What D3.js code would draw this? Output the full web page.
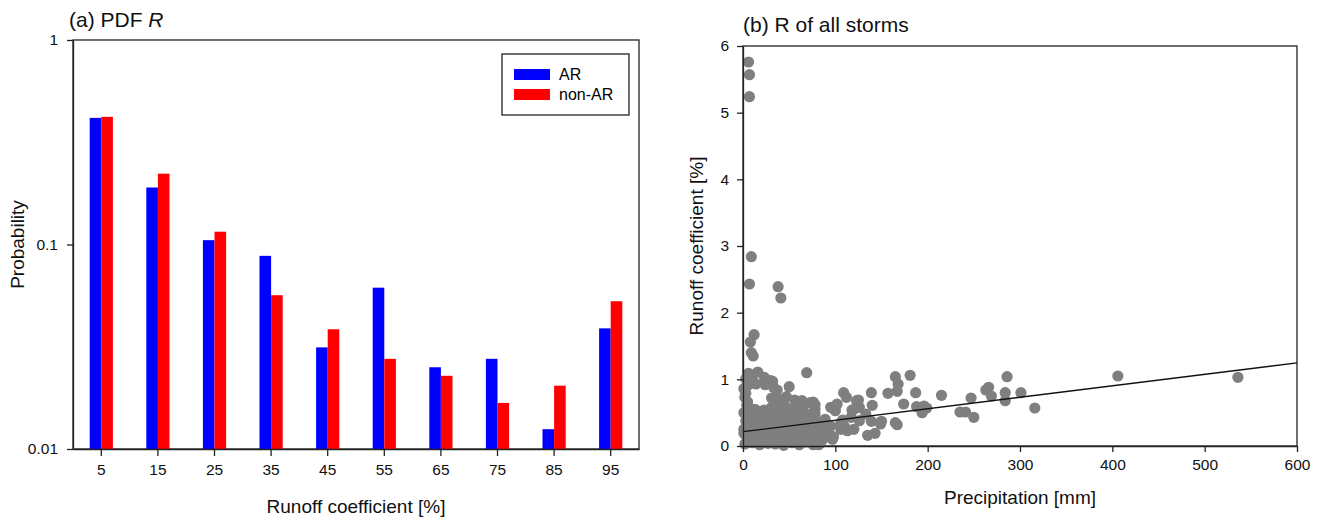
<!DOCTYPE html>
<html lang="en">
<head>
  <meta charset="UTF-8">
  <title>Runoff coefficient</title>
  <style>
    body {
      margin: 0;
      background: #ffffff;
      font-family: Arial, "Liberation Sans", sans-serif;
    }
    svg { display: block; }
    .axis path, .axis line { stroke: #222; stroke-width: 1.3px; }
    .axis text { font-size: 15.5px; fill: #111; }
    .frame { fill: none; stroke: #222; stroke-width: 1.3px; }
    .title { font-size: 21px; fill: #111; }
    .label { font-size: 19px; fill: #111; }
  </style>
</head>
<body>
  <svg id="chart" width="1320" height="518"></svg>

  <script src="https://d3js.org/d3.v7.min.js"></script>
  <script>
    // (a) PDF of runoff coefficient
    const binCenters = [5, 15, 25, 35, 45, 55, 65, 75, 85, 95];
    const pdfAR    = [0.416, 0.190, 0.105, 0.088, 0.0314, 0.0615, 0.0251, 0.0276, 0.0125, 0.0389];
    const pdfNonAR = [0.421, 0.222, 0.1155, 0.0565, 0.0385, 0.0276, 0.0228, 0.0168, 0.0204, 0.0528];
    const logTicks = [0.01, 0.1, 1];

    // (b) runoff coefficient vs precipitation, [precip mm, R %]
    const storms = [
      // outliers
      [6, 5.76], [7, 5.57], [7, 5.24], [9, 2.84], [7, 2.43], [38, 2.39], [41, 2.22],
      [12, 1.67], [8, 1.56], [9, 1.40], [11, 1.35],
      // dense cluster near the origin
      [2, 0.03], [10, 0.05], [18, 0.02], [27, 0.04], [35, 0.03], [44, 0.01], [53, 0.05], [61, 0.02], [68, 0.06], [80, 0.03],
      [6, 0.08], [14, 0.09], [23, 0.07], [31, 0.08], [40, 0.07], [49, 0.09], [57, 0.06], [65, 0.09], [73, 0.07], [85, 0.08],
      [4, 0.14], [13, 0.12], [22, 0.15], [31, 0.11], [39, 0.13], [48, 0.16], [57, 0.12], [65, 0.14], [74, 0.11], [86, 0.13],
      [1, 0.19], [9, 0.20], [18, 0.18], [27, 0.20], [36, 0.19], [44, 0.21], [53, 0.19], [62, 0.18], [70, 0.20], [80, 0.18], [88, 0.22],
      [1, 0.25], [8, 0.27], [17, 0.24], [26, 0.26], [34, 0.23], [43, 0.27], [52, 0.25], [60, 0.22], [69, 0.26], [78, 0.24], [90, 0.28],
      [4, 0.31], [13, 0.32], [22, 0.30], [30, 0.31], [39, 0.32], [48, 0.30], [57, 0.31], [66, 0.30], [75, 0.32], [84, 0.30],
      [3, 0.38], [12, 0.36], [21, 0.39], [30, 0.35], [38, 0.37], [47, 0.40], [56, 0.36], [64, 0.34], [73, 0.38], [82, 0.35],
      [5, 0.43], [14, 0.42], [24, 0.44], [32, 0.42], [41, 0.43], [50, 0.42], [59, 0.40], [68, 0.42], [77, 0.41],
      [1, 0.50], [9, 0.48], [18, 0.47], [27, 0.47], [35, 0.50], [44, 0.46], [52, 0.49], [61, 0.44], [72, 0.47],
      [8, 0.55], [20, 0.52], [31, 0.53], [39, 0.55], [56, 0.53], [66, 0.51],
      [4, 0.61], [13, 0.55], [23, 0.54], [31, 0.58], [40, 0.60], [48, 0.57], [58, 0.62], [65, 0.59],
      [2, 0.73], [5, 0.66], [31, 0.72], [35, 0.64], [39, 0.70], [47, 0.74], [44, 0.64],
      [1, 0.86], [6, 0.92], [14, 0.93], [24, 0.92], [33, 0.88], [37, 0.84], [3, 0.79],
      [3, 1.01], [6, 1.09], [16, 1.11], [23, 1.03], [30, 0.98], [32, 0.97], [10, 1.00],
      [95, 0.30], [92, 0.20], [88, 0.12], [84, 0.05], [76, 0.02], [89, 0.34], [78, 0.55],
      // moderate storms
      [69, 1.10], [50, 0.89], [41, 0.68], [56, 0.69], [76, 0.66], [73, 0.65], [78, 0.62], [78, 0.48], [64, 0.68],
      [89, 0.40], [82, 0.25], [82, 0.02], [97, 0.10], [98, 0.14],
      [95, 0.58], [100, 0.59], [100, 0.53], [102, 0.63], [109, 0.80], [112, 0.73], [108, 0.39], [110, 0.29],
      [106, 0.35], [106, 0.25], [113, 0.23], [118, 0.54], [117, 0.43], [120, 0.55], [120, 0.25], [123, 0.68],
      [125, 0.69], [126, 0.58], [126, 0.38], [133, 0.48], [135, 0.16], [139, 0.80], [140, 0.61], [139, 0.37],
      [143, 0.19], [149, 0.33], [150, 0.37], [157, 0.79], [165, 0.35], [167, 0.32], [165, 1.04], [168, 0.93],
      [167, 0.82], [174, 0.63], [181, 1.06], [187, 0.80], [188, 0.59], [194, 0.50], [196, 0.60], [199, 0.57],
      [215, 0.76], [235, 0.51], [241, 0.51], [247, 0.72], [250, 0.43], [263, 0.84], [266, 0.88], [269, 0.75],
      [284, 0.80], [284, 0.68], [286, 1.04], [301, 0.80], [316, 0.57], [406, 1.05], [536, 1.03]
    ];
    const fitIntercept = 0.215;
    const fitSlope = 0.00172;
    const xTicksB = [0, 100, 200, 300, 400, 500, 600];
    const yTicksB = [0, 1, 2, 3, 4, 5, 6];

    const svg = d3.select('#chart');

    // ---------- panel (a) ----------
    const a = { left: 73, right: 639, top: 40, bottom: 449 };

    const xA = d3.scaleBand()
      .domain(binCenters)
      .range([a.left, a.right])
      .padding(0);

    const yA = d3.scaleLog()
      .domain([0.01, 1])
      .range([a.bottom, a.top]);

    const barW = xA.bandwidth() * 0.205;

    const gA = svg.append('g');

    gA.append('rect')
      .attr('class', 'frame')
      .attr('x', a.left).attr('y', a.top)
      .attr('width', a.right - a.left).attr('height', a.bottom - a.top);

    const series = [
      { name: 'AR', values: pdfAR, color: '#0000ff', offset: -1 },
      { name: 'non-AR', values: pdfNonAR, color: '#ff0000', offset: 0 }
    ];

    series.forEach(s => {
      gA.selectAll(null)
        .data(binCenters)
        .enter().append('rect')
        .attr('x', (d, i) => xA(d) + xA.bandwidth() / 2 + s.offset * barW)
        .attr('y', (d, i) => yA(s.values[i]))
        .attr('width', barW)
        .attr('height', (d, i) => a.bottom - yA(s.values[i]))
        .attr('fill', s.color);
    });

    gA.append('g')
      .attr('class', 'axis')
      .attr('transform', `translate(0,${a.bottom})`)
      .call(d3.axisBottom(xA).tickSize(7).tickPadding(8).tickSizeOuter(0));

    gA.append('g')
      .attr('class', 'axis')
      .attr('transform', `translate(${a.left},0)`)
      .call(d3.axisLeft(yA).tickValues(logTicks).tickFormat(d3.format('~g')).tickSize(6).tickPadding(9).tickSizeOuter(0));

    // legend
    const lg = gA.append('g').attr('transform', 'translate(502,54)');
    lg.append('rect')
      .attr('width', 127).attr('height', 61)
      .attr('fill', '#fff').attr('stroke', '#222').attr('stroke-width', 1.3);
    series.forEach((s, i) => {
      lg.append('rect')
        .attr('x', 12).attr('y', 15 + i * 20)
        .attr('width', 36).attr('height', 11)
        .attr('fill', s.color);
      lg.append('text')
        .attr('x', 57).attr('y', 26 + i * 20)
        .style('font-size', '16px')
        .text(s.name);
    });

    const titleA = gA.append('text')
      .attr('class', 'title')
      .attr('x', 69).attr('y', 27);
    titleA.append('tspan').text('(a) PDF ');
    titleA.append('tspan').style('font-style', 'italic').text('R');

    gA.append('text')
      .attr('class', 'label')
      .attr('text-anchor', 'middle')
      .attr('x', (a.left + a.right) / 2).attr('y', 513)
      .text('Runoff coefficient [%]');

    gA.append('text')
      .attr('class', 'label')
      .attr('text-anchor', 'middle')
      .attr('transform', `translate(24,${(a.top + a.bottom) / 2}) rotate(-90)`)
      .text('Probability');

    // ---------- panel (b) ----------
    const b = { left: 743, right: 1297, top: 46, bottom: 446 };

    const xB = d3.scaleLinear().domain([0, 600]).range([b.left, b.right]);
    const yB = d3.scaleLinear().domain([0, 6]).range([b.bottom, b.top]);

    const gB = svg.append('g');

    gB.append('rect')
      .attr('class', 'frame')
      .attr('x', b.left).attr('y', b.top)
      .attr('width', b.right - b.left).attr('height', b.bottom - b.top);

    gB.selectAll('circle')
      .data(storms)
      .enter().append('circle')
      .attr('cx', d => xB(d[0]))
      .attr('cy', d => yB(d[1]))
      .attr('r', 5.6)
      .attr('fill', '#7f7f7f');

    const fit = d3.line()
      .x(d => xB(d))
      .y(d => yB(fitIntercept + fitSlope * d));

    gB.append('path')
      .datum(xB.domain())
      .attr('d', fit)
      .attr('fill', 'none')
      .attr('stroke', '#111')
      .attr('stroke-width', 1.3);

    gB.append('g')
      .attr('class', 'axis')
      .attr('transform', `translate(0,${b.bottom})`)
      .call(d3.axisBottom(xB).tickValues(xTicksB).tickSize(6).tickPadding(7).tickSizeOuter(0));

    gB.append('g')
      .attr('class', 'axis')
      .attr('transform', `translate(${b.left},0)`)
      .call(d3.axisLeft(yB).tickValues(yTicksB).tickFormat(d3.format('d')).tickSize(6).tickPadding(8).tickSizeOuter(0));

    gB.append('text')
      .attr('class', 'title')
      .attr('x', 743).attr('y', 32)
      .text('(b) R of all storms');

    gB.append('text')
      .attr('class', 'label')
      .attr('text-anchor', 'middle')
      .attr('x', (b.left + b.right) / 2).attr('y', 504)
      .text('Precipitation [mm]');

    gB.append('text')
      .attr('class', 'label')
      .attr('text-anchor', 'middle')
      .attr('transform', `translate(703,${(b.top + b.bottom) / 2}) rotate(-90)`)
      .text('Runoff coefficient [%]');
  </script>
</body>
</html>
